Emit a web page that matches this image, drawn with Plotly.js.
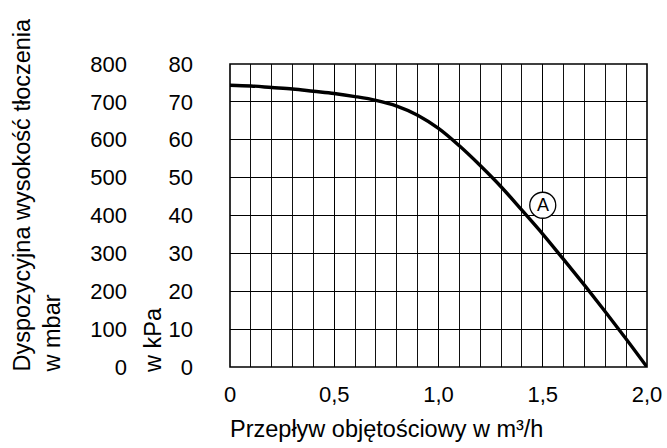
<!DOCTYPE html>
<html>
<head>
<meta charset="utf-8">
<script src="https://cdn.plot.ly/plotly-3.0.1.min.js"></script>
<style>html,body{margin:0;padding:0;background:#fff;}#chart{width:667px;height:448px;}</style>
</head>
<body>
<div id="chart"></div>
<script>
// Data
var flowM3h = [0, 0.1, 0.2, 0.3, 0.4, 0.5, 0.6, 0.7, 0.8, 0.9, 1.0, 1.1, 1.2, 1.3, 1.4, 1.5, 1.6, 1.7, 1.8, 1.9, 2.0];
var headKPa = [74.4, 74.2, 73.8, 73.4, 72.8, 72.2, 71.4, 70.4, 68.9, 66.5, 63.0, 58.4, 53.2, 47.6, 41.4, 35.1, 28.4, 21.6, 14.6, 7.4, 0];
var xTickVals = [0, 0.5, 1.0, 1.5, 2.0];
var xTickText = ['0', '0,5', '1,0', '1,5', '2,0'];
var kpaTickVals = [0, 10, 20, 30, 40, 50, 60, 70, 80];
var mbarTickVals = [0, 100, 200, 300, 400, 500, 600, 700, 800];
var curveLabel = {text: 'A', x: 1.5, y: 42.7};

var FONT = '"Liberation Sans", Arial, Helvetica, sans-serif';
var W = 647; // paper width (667 - margins)

var trace = {
  x: flowM3h, y: headKPa, type: 'scatter', mode: 'lines',
  line: {color: '#000', width: 3.4, shape: 'spline', smoothing: 1},
  hoverinfo: 'skip', showlegend: false
};
// same curve expressed in mbar (1 kPa = 10 mbar), invisible, so that the mbar axis is drawn
var traceMbar = {
  x: flowM3h, y: headKPa.map(function (v) { return v * 10; }), yaxis: 'y2',
  type: 'scatter', mode: 'lines', line: {color: 'rgba(0,0,0,0)', width: 0},
  hoverinfo: 'skip', showlegend: false
};

var layout = {
  width: 667, height: 448,
  margin: {l: 0, r: 20, t: 64, b: 81, autoexpand: false},
  paper_bgcolor: '#fff', plot_bgcolor: '#fff',
  font: {family: FONT, size: 22, color: '#000'},
  showlegend: false,
  xaxis: {
    domain: [230 / W, 1], range: [0, 2], fixedrange: true,
    tickvals: xTickVals, ticktext: xTickText,
    ticks: 'outside', ticklen: 8, tickcolor: 'rgba(0,0,0,0)',
    showgrid: true, gridcolor: '#000', gridwidth: 1.2,
    minor: {dtick: 0.1, showgrid: true, gridcolor: '#111', gridwidth: 1, ticks: ''},
    zeroline: false, showline: false,
    tickfont: {family: FONT, size: 22, color: '#000'}
  },
  yaxis: {
    range: [0, 80], anchor: 'free', position: 193 / W, side: 'left', fixedrange: true,
    tickvals: kpaTickVals, ticks: '',
    showgrid: true, gridcolor: '#000', gridwidth: 1.2,
    zeroline: false, showline: false,
    tickfont: {family: FONT, size: 22, color: '#000'}
  },
  yaxis2: {
    range: [0, 800], overlaying: 'y', anchor: 'free', position: 127 / W, side: 'left', fixedrange: true,
    tickvals: mbarTickVals, ticks: '',
    showgrid: false, zeroline: false, showline: false,
    tickfont: {family: FONT, size: 22, color: '#000'}
  },
  shapes: [
    {type: 'rect', xref: 'x domain', yref: 'y domain', x0: 0, x1: 1, y0: 0, y1: 1,
     line: {color: '#000', width: 1.6}, fillcolor: 'rgba(0,0,0,0)', layer: 'above'},
    {type: 'circle', xref: 'x', yref: 'y', xsizemode: 'pixel', ysizemode: 'pixel',
     xanchor: curveLabel.x, yanchor: curveLabel.y, x0: -13, x1: 13, y0: -13, y1: 13,
     line: {color: '#000', width: 1.3}, fillcolor: '#fff', layer: 'between'}
  ],
  annotations: [
    {text: curveLabel.text, x: curveLabel.x, y: curveLabel.y, xref: 'x', yref: 'y',
     showarrow: false, font: {family: FONT, size: 18, color: '#000'}, xanchor: 'center', yanchor: 'middle'},
    {text: 'Dyspozycyjna wysokość tłoczenia<br>w mbar', xref: 'paper', yref: 'paper',
     x: 37 / W, y: -8 / 303, xanchor: 'center', yanchor: 'bottom', textangle: -90, align: 'left',
     showarrow: false, font: {family: FONT, size: 23.5, color: '#000'}},
    {text: 'w kPa', xref: 'paper', yref: 'paper',
     x: 153 / W, y: -8 / 303, xanchor: 'center', yanchor: 'bottom', textangle: -90, align: 'left',
     showarrow: false, font: {family: FONT, size: 23.5, color: '#000'}},
    {text: 'Przepływ objętościowy w m³/h', xref: 'paper', yref: 'paper',
     x: 228 / W, y: -62 / 303, xanchor: 'left', yanchor: 'middle',
     showarrow: false, font: {family: FONT, size: 23.5, color: '#000'}}
  ]
};

Plotly.newPlot('chart', [trace, traceMbar], layout, {staticPlot: true, displayModeBar: false});
</script>
</body>
</html>
